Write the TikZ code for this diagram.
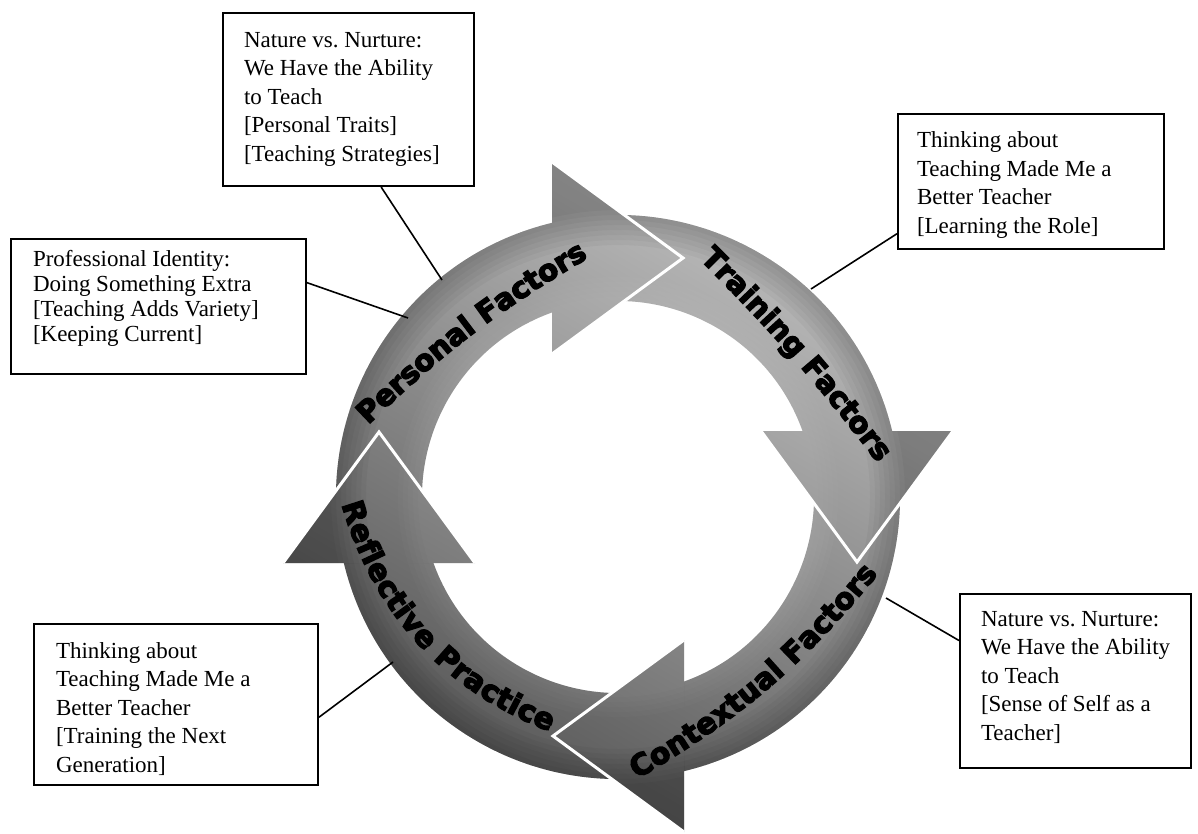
\documentclass[tikz,border=0pt]{standalone}
\usepackage{fontspec}
\setmainfont{Liberation Serif}
\newfontfamily\ringfont{DejaVu Sans}[UprightFont={* Bold},FakeBold=4.5]
\usetikzlibrary{decorations.text,calc}
\definecolor{gdark}{gray}{0.30}
\definecolor{glight}{gray}{0.78}
\newcommand\boxfa{\fontsize{11.5}{14.25}\selectfont}
\newcommand\boxfb{\fontsize{11.5}{12.5}\selectfont}
\newcommand\btext[5]{\hspace*{#1}\parbox[t][#2][t]{#3}{#4\raggedright\rule{0pt}{8.5pt}#5}}
\newcommand\ringshade{%
  \shade[top color=glight,bottom color=gdark,shading angle=-30] (-370,-370) rectangle (370,370);
  \foreach \r in {252,257,...,287} {\fill[black,opacity=0.035,even odd rule] (0,0) circle (420) (0,0) circle (\r);}
  \foreach \r in {200,205,...,220} {\fill[white,opacity=0.02] (0,0) circle (\r);}
}
\begin{document}
\begin{tikzpicture}[x=0.5pt,y=0.5pt,
  box/.style={draw=black,line width=1pt,anchor=north west,inner xsep=0pt,fill=white,text=black},
  conn/.style={draw=black,line width=0.8pt},
  ringlabel/.style={decorate,decoration={text along path,text align=center,raise=-4.5pt,text={|\ringfont\fontsize{14.75}{16}\selectfont|#1}}}
]
\useasboundingbox (0,0) rectangle (1198,-834);

% ---- ring of four curved arrows ----
\begin{scope}[shift={(618,-497)}]
  \foreach \k in {0,1,2,3}{
    \begin{scope}
      \clip[rotate=-90*\k] (193.33:282) arc[start angle=193.33,end angle=103.33,radius=282]
        -- (109.37:196) arc[start angle=109.37,end angle=199.37,radius=196] -- cycle;
      \ringshade
    \end{scope}}
  \foreach \k in {0,1,2,3}{
    \begin{scope}
      \clip[rotate=-90*\k] (-66,335) -- (65,239) -- (-66,143) -- cycle;
      \ringshade
    \end{scope}
    \draw[white,line width=1.5pt,rotate=-90*\k] (-66,335) -- (65,239) -- (-66,143);}
\end{scope}

% ---- curved labels ----
\path[ringlabel={Personal Factors}] (342,-438) to[bend left=7.5] (608,-236);
\path[ringlabel={Training Factors}] (693,-240) to[bend left=4] (896,-472);
\path[ringlabel={Contextual Factors}] (612,-783) to[bend right=11] (886,-550);
\path[ringlabel={Reflective Practice}] (342,-470) to[bend right=30] (584,-734);

% ---- text boxes ----
\node[box,inner ysep=8.75pt] (b1) at (222,-12)
  {\btext{10.5pt}{69pt}{115pt}{\boxfa}{Nature vs.\ Nurture:\\We Have the Ability\\to Teach\\{}[Personal Traits]\\{}[Teaching Strategies]}};
\node[box,inner ysep=5pt] (b2) at (10,-238)
  {\btext{11pt}{57.5pt}{136.5pt}{\boxfb}{Professional Identity:\\Doing Something Extra\\{}[Teaching Adds Variety]\\{}[Keeping Current]}};
\node[box,inner ysep=8.5pt] (b3) at (897,-113)
  {\btext{9.5pt}{50.5pt}{123.5pt}{\boxfa}{Thinking about\\Teaching Made Me a\\Better Teacher\\{}[Learning the Role]}};
\node[box,inner ysep=7.5pt] (b4) at (959,-593)
  {\btext{10.5pt}{72pt}{105pt}{\boxfa}{Nature vs.\ Nurture:\\We Have the Ability\\to Teach\\{}[Sense of Self as a\\Teacher]}};
\node[box,inner ysep=8.5pt] (b5) at (33,-623)
  {\btext{11pt}{63.5pt}{131pt}{\boxfa}{Thinking about\\Teaching Made Me a\\Better Teacher\\{}[Training the Next\\Generation]}};

% ---- connectors ----
\coordinate (e1) at (442,-280);
\coordinate (e2) at (408,-318);
\coordinate (e3) at (811,-289);
\coordinate (e4) at (886,-598);
\coordinate (e5) at (393,-662);
\draw[conn] ($(b1.south west)!0.629!(b1.south east)$) -- (e1);
\draw[conn] ($(b2.north east)!0.326!(b2.south east)$) -- (e2);
\draw[conn] ($(b3.north west)!0.881!(b3.south west)$) -- (e3);
\draw[conn] ($(b4.north west)!0.27!(b4.south west)$) -- (e4);
\draw[conn] ($(b5.north east)!0.578!(b5.south east)$) -- (e5);
\end{tikzpicture}
\end{document}
